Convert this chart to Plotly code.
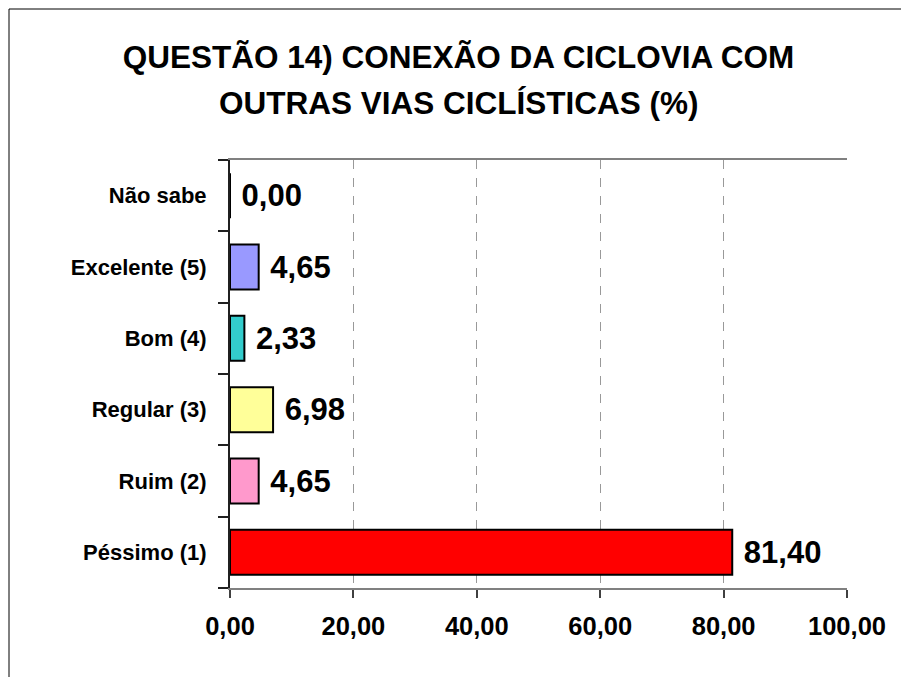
import plotly.graph_objects as go

# Data
categorias = ["Péssimo (1)", "Ruim (2)", "Regular (3)", "Bom (4)", "Excelente (5)", "Não sabe"]
percentuais = [81.40, 4.65, 6.98, 2.33, 4.65, 0.00]
cores = ["#FF0000", "#FF99CC", "#FFFF99", "#33CCCC", "#9999FF", "#FFFFFF"]
x_ticks = [0, 20, 40, 60, 80, 100]
titulo = ["QUESTÃO 14) CONEXÃO DA CICLOVIA COM", "OUTRAS VIAS CICLÍSTICAS (%)"]

FONT = "Liberation Sans, Arial, sans-serif"

W, H = 901, 669
L, R, T, B = 222, 62, 152, 89
pw, ph = W - L - R, H - T - B

fig = go.Figure()

fig.add_trace(
    go.Bar(
        x=percentuais,
        y=categorias,
        orientation="h",
        marker=dict(color=cores, line=dict(color="black", width=2)),
        texttemplate="\u00a0%{x:.2f}",
        textposition="outside",
        constraintext="none",
        cliponaxis=False,
        textfont=dict(family=FONT, size=31, color="black", weight="bold"),
        hoverinfo="skip",
    )
)

fig.update_layout(
    width=W,
    height=H,
    separators=",.",
    paper_bgcolor="white",
    plot_bgcolor="white",
    showlegend=False,
    bargap=0.37,
    margin=dict(l=L, r=R, t=T, b=B),
    font=dict(family=FONT, color="black"),
    title=dict(
        text=titulo[0],
        x=0.5,
        xanchor="center",
        y=1 - 49 / H,
        yanchor="middle",
        font=dict(family=FONT, size=31.5, color="black", weight="bold"),
    ),
)

# second title line placed on its own to get the wider line spacing
fig.add_annotation(
    text=titulo[1],
    xref="paper", yref="paper",
    x=(W / 2 - L) / pw, y=(ph + T - 95) / ph,
    xanchor="center", yanchor="middle",
    showarrow=False,
    font=dict(family=FONT, size=31.5, color="black", weight="bold"),
)

fig.update_xaxes(
    range=[0, 100],
    tickvals=x_ticks,
    tickformat=".2f",
    showgrid=True,
    gridcolor="#999999",
    griddash="dash",
    gridwidth=1,
    zeroline=False,
    showline=True,
    linecolor="#808080",
    linewidth=2,
    mirror=True,
    ticks="outside",
    ticklen=8,
    tickcolor="#404040",
    tickwidth=1.5,
    ticklabelstandoff=6,
    tickfont=dict(family=FONT, size=25.5, color="black", weight="bold"),
)

fig.update_yaxes(
    showgrid=False,
    showline=True,
    linecolor="#202020",
    linewidth=2,
    ticks="outside",
    tickson="boundaries",
    ticklen=10,
    tickcolor="#202020",
    tickwidth=1.5,
    ticklabelstandoff=17,
    tickfont=dict(family=FONT, size=22, color="black", weight="bold"),
)

# outer chart border (only top and left edges are visible)
bx = (1 - L) / pw
by = (ph + T - 1) / ph
fig.add_shape(type="line", xref="paper", yref="paper",
              x0=bx, x1=1.2, y0=by, y1=by,
              line=dict(color="black", width=1))
fig.add_shape(type="line", xref="paper", yref="paper",
              x0=bx, x1=bx, y0=-0.3, y1=by,
              line=dict(color="black", width=1))

fig.write_html("out.html")
